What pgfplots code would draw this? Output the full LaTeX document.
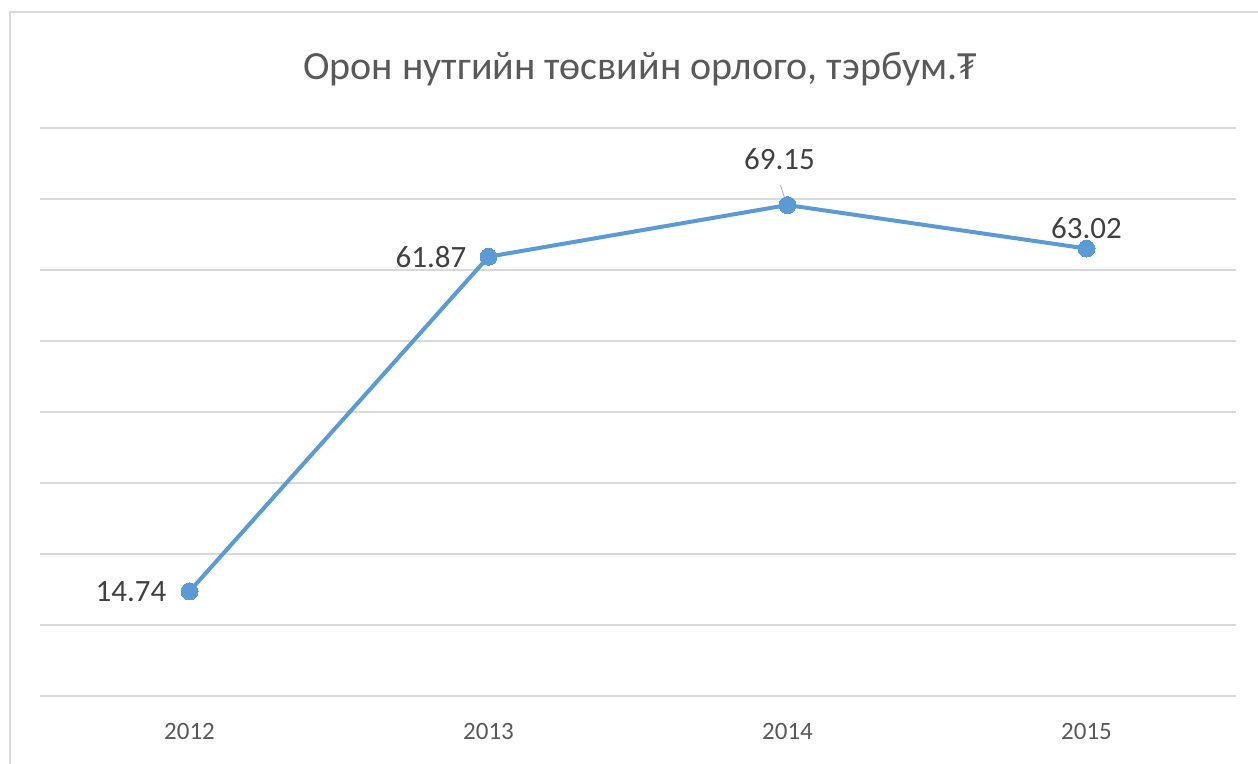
\documentclass[border=0pt]{standalone}
\usepackage{fontspec}
\setmainfont{Carlito}
\usepackage{pgfplots}
\pgfplotsset{compat=1.18}
\definecolor{lineblue}{HTML}{5B9BD5}
\definecolor{gridgray}{HTML}{D9D9D9}
\definecolor{titlegray}{HTML}{595959}
\definecolor{labelgray}{HTML}{404040}
\begin{document}
\begin{tikzpicture}[x=1pt,y=1pt]
\path[use as bounding box] (-40,-67) rectangle (1218,696);
\draw[gray!30, line width=2pt] (-30,-68) -- (-30,684) -- (1219,684);
\begin{axis}[
  at={(0,0)}, anchor=south west,
  scale only axis, width=1196pt, height=568pt,
  xmin=-0.5, xmax=3.5, ymin=0, ymax=80,
  ytick={0,10,...,80}, yticklabels={},
  xtick={0,1,2,3}, xticklabels={2012,2013,2014,2015},
  axis line style={draw=none},
  major tick length=0pt,
  ymajorgrids, grid style={gridgray, line width=1.5pt},
  xticklabel style={font=\fontsize{25}{30}\selectfont, text=titlegray, yshift=-24pt},
  /pgf/number format/assume math mode=true,
  clip=false,
]
\addplot[lineblue, line width=4pt, mark=*, mark size=8.5pt, mark options={fill=lineblue, draw=lineblue, line width=0pt}]
  coordinates {(0,14.74) (1,61.87) (2,69.15) (3,63.02)};
\begin{scope}[every node/.style={font=\fontsize{31}{36}\selectfont, text=labelgray, inner sep=0pt}]
\node[anchor=east] at ([xshift=-23pt]axis cs:0,14.74) {14.74};
\node[anchor=east] at ([xshift=-22pt]axis cs:1,61.87) {61.87};
\node[anchor=south] at ([xshift=-8pt,yshift=35pt]axis cs:2,69.15) {69.15};
\node[anchor=south] at ([yshift=10pt]axis cs:3,63.02) {63.02};
\end{scope}
\draw[gray!70, line width=0.8pt] ([xshift=-7pt,yshift=20pt]axis cs:2,69.15) -- ([xshift=-2pt,yshift=4pt]axis cs:2,69.15);
\end{axis}
\node[anchor=base, text=titlegray, font=\fontsize{40}{48}\selectfont] at (600,616) {Орон нутгийн төсвийн орлого, тэрбум.₮};
\end{tikzpicture}
\end{document}
